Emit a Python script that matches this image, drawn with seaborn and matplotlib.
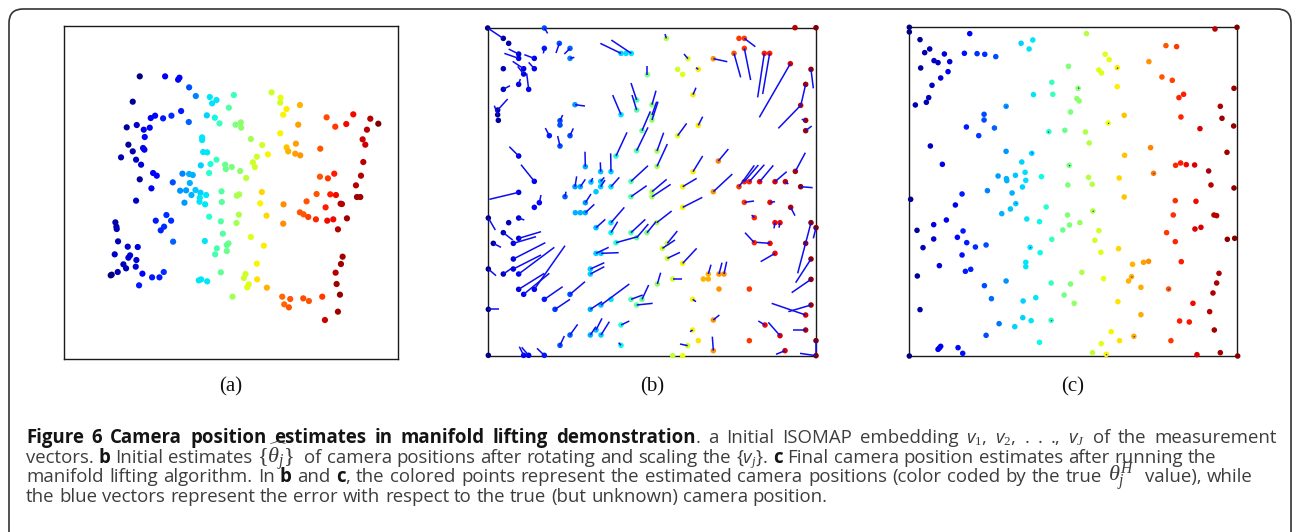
import numpy as np
import pandas as pd
import matplotlib
matplotlib.use("Agg")
import matplotlib.pyplot as plt
import seaborn as sns
from matplotlib.collections import LineCollection
from matplotlib.patches import FancyBboxPatch
from matplotlib.transforms import IdentityTransform

sns.set_style("white")
plt.rcParams['font.family'] = ['Open Sans', 'DejaVu Sans']
plt.rcParams['mathtext.fontset'] = 'custom'
plt.rcParams['mathtext.rm'] = 'Liberation Serif'
plt.rcParams['mathtext.it'] = 'Liberation Serif:italic'
plt.rcParams['mathtext.sf'] = 'Open Sans:italic'
plt.rcParams['mathtext.bf'] = 'Open Sans:bold'

JET = matplotlib.colormaps["jet"]

# ---------------- data: panel (a) ISOMAP embedding ----------------
a_x = [239,315,354,358,387,407,449,469,456,521,506,634,661,660,679,669,719,714,660,218,
       363,272,285,309,334,386,440,464,478,526,542,543,200,230,251,269,254,426,426,572,
       606,590,623,578,584,205,218,249,253,183,228,243,429,441,469,451,422,495,497,515,
       540,558,447,679,684,707,705,720,780,799,825,858,879,930,954,920,907,915,909,902,
       887,890,900,841,845,860,833,822,803,779,769,810,827,796,739,719,730,744,767,801,
       819,670,669,605,600,619,279,290,239,274,228,338,367,387,398,389,360,378,394,406,
       421,438,419,418,435,373,484,485,530,537,536,529,447,482,488,572,611,505,500,470,
       500,465,434,482,556,551,590,591,566,561,620,517,423,416,441,166,169,170,319,287,
       333,312,302,339,174,203,233,164,210,205,229,190,198,227,155,152,173,247,276,298,
       311,237,847,842,826,829,839,833,794,786,746,729,690,666,672,686]
a_y = [169,169,179,173,202,228,231,240,250,225,263,217,233,248,267,284,255,314,340,245,
       273,294,287,295,287,306,286,293,310,314,307,323,322,315,329,323,351,352,360,357,
       375,410,403,427,441,374,394,384,389,412,419,434,396,397,419,432,436,434,447,441,
       453,474,459,382,394,371,401,406,386,292,320,312,283,296,311,329,358,374,426,467,
       496,531,531,551,552,595,628,461,475,470,522,523,525,562,544,577,583,591,598,602,
       598,553,611,516,550,587,459,467,478,505,542,487,461,462,465,489,512,511,525,510,
       518,525,533,545,553,548,514,546,527,523,584,609,590,604,641,651,677,670,675,685,
       693,703,663,757,762,774,731,778,793,802,803,830,778,781,784,607,620,627,585,602,
       602,620,631,665,664,680,681,703,706,713,720,733,745,740,764,766,756,761,772,772,
       756,796,710,732,758,792,824,875,900,830,843,835,837,830,853,862]
a_hue = [0.0,0.1,0.12,0.12,0.2,0.25,0.35,0.35,0.35,0.42,0.45,0.6,0.63,0.6,0.66,0.65,0.72,0.74,0.65,0.02,
         0.15,0.12,0.12,0.15,0.17,0.22,0.33,0.37,0.42,0.5,0.52,0.52,0.03,0.07,0.1,0.12,0.12,0.35,0.35,0.55,
         0.6,0.6,0.65,0.6,0.6,0.02,0.04,0.1,0.1,0.04,0.06,0.08,0.35,0.35,0.42,0.38,0.33,0.48,0.48,0.5,
         0.52,0.58,0.4,0.7,0.72,0.74,0.74,0.75,0.82,0.83,0.85,0.9,0.9,0.95,1.0,0.95,0.93,0.93,0.95,0.95,
         0.95,0.97,0.97,0.95,0.95,0.97,0.95,0.88,0.85,0.82,0.82,0.88,0.9,0.88,0.82,0.82,0.82,0.84,0.87,0.9,
         0.9,0.76,0.76,0.68,0.65,0.68,0.12,0.12,0.03,0.1,0.06,0.2,0.25,0.3,0.3,0.3,0.27,0.28,0.3,0.32,
         0.33,0.35,0.35,0.35,0.35,0.27,0.45,0.46,0.55,0.56,0.56,0.55,0.4,0.45,0.45,0.62,0.66,0.48,0.47,0.44,
         0.48,0.43,0.35,0.47,0.6,0.6,0.65,0.67,0.62,0.62,0.72,0.55,0.35,0.35,0.35,0.04,0.04,0.05,0.17,0.15,
         0.17,0.17,0.16,0.22,0.05,0.07,0.08,0.06,0.08,0.08,0.08,0.05,0.05,0.08,0.0,0.0,0.04,0.12,0.15,0.15,
         0.17,0.15,0.97,0.97,0.95,0.97,0.98,0.97,0.93,0.85,0.82,0.83,0.82,0.8,0.8,0.82]

# ---------------- data: panel (b) initial estimates + error vectors ----------------
b_x = [23,70,86,193,238,270,270,193,116,116,163,131,131,163,70,116,146,70,53,53,
       55,285,240,240,208,270,240,116,163,423,438,454,502,423,470,470,516,516,516,486,
       470,408,316,362,393,453,285,301,333,362,362,393,116,178,163,255,316,286,301,316,
       348,453,516,516,25,86,116,70,116,100,40,348,393,393,408,453,470,501,100,100,
       116,70,25,348,363,331,331,116,131,163,193,270,225,331,363,393,453,470,486,25,
       270,331,348,363,240,423,423,131,146,193,25,608,700,793,870,932,823,885,900,993,
       1008,977,993,993,993,977,977,1008,1008,915,823,870,885,530,562,547,562,608,532,578,
       685,670,685,717,732,717,808,638,700,638,655,623,700,808,855,900,578,608,945,1008,
       559,624,593,608,655,700,777,793,762,793,853,869,931,993,977,962,977,977,639,593,
       655,531,531,639,715,608,777,793,808,839,885,916,946,962]
b_y = [24,55,70,24,70,85,115,85,102,115,115,146,162,146,146,193,208,208,270,284,
       301,254,302,315,347,347,378,408,484,100,100,100,164,284,270,240,254,285,300,332,
       392,408,440,455,455,484,500,500,486,484,500,500,517,548,562,530,548,578,578,578,
       515,530,515,530,594,608,594,638,655,670,670,623,608,638,668,638,653,638,717,747,
       762,762,747,700,700,747,762,808,823,808,838,823,868,868,855,838,838,855,838,868,
       945,945,930,945,976,915,976,1006,1006,1006,1006,562,515,547,547,562,593,608,608,608,
       623,670,717,778,855,885,930,962,1007,992,668,670,700,608,670,685,715,730,792,777,
       762,777,777,762,762,807,807,838,900,930,962,977,992,962,915,947,1007,1007,23,23,
       55,116,148,163,148,116,55,55,100,85,100,100,131,148,193,256,301,332,224,347,
       316,393,439,455,423,500,500,485,485,485,485,485,454,500]
b_hue = [0.0,0.03,0.04,0.2,0.2,0.22,0.25,0.15,0.08,0.08,0.1,0.08,0.08,0.1,0.05,0.08,0.1,0.05,0.03,0.03,
         0.03,0.28,0.2,0.2,0.15,0.2,0.2,0.08,0.1,0.33,0.34,0.35,0.5,0.35,0.45,0.45,0.52,0.52,0.52,0.47,
         0.45,0.4,0.3,0.32,0.33,0.45,0.28,0.3,0.32,0.33,0.33,0.35,0.08,0.13,0.12,0.22,0.28,0.3,0.3,0.3,
         0.32,0.45,0.55,0.55,0.0,0.05,0.08,0.05,0.08,0.08,0.03,0.32,0.35,0.37,0.4,0.45,0.47,0.5,0.08,0.08,
         0.1,0.05,0.0,0.33,0.33,0.33,0.33,0.08,0.1,0.1,0.15,0.2,0.18,0.3,0.32,0.35,0.45,0.47,0.47,0.0,
         0.22,0.3,0.32,0.33,0.2,0.4,0.37,0.1,0.1,0.15,0.0,0.65,0.75,0.85,0.9,0.95,0.87,0.9,0.9,0.98,
         1.0,0.98,0.98,0.98,0.97,0.92,0.95,1.0,1.0,0.92,0.87,0.9,0.9,0.57,0.6,0.6,0.6,0.65,0.53,0.6,
         0.72,0.72,0.72,0.75,0.75,0.75,0.85,0.65,0.75,0.65,0.67,0.6,0.75,0.85,0.9,0.92,0.58,0.63,0.95,1.0,
         0.57,0.62,0.6,0.62,0.66,0.75,0.85,0.85,0.82,0.85,0.88,0.88,0.92,0.98,0.97,0.94,0.97,0.97,0.66,0.62,
         0.66,0.55,0.55,0.66,0.77,0.65,0.85,0.87,0.87,0.9,0.92,0.93,0.96,0.98]
b_end_x = [68,70,86,203,228,253,283,190,86,73,133,98,113,146,70,121,140,90,83,43,
           55,315,248,240,196,280,233,88,123,361,438,394,502,398,456,453,528,530,534,511,
           504,441,315,361,392,504,290,316,338,373,375,418,28,183,163,258,333,286,301,343,
           348,500,560,572,46,86,133,98,183,168,63,376,433,413,473,496,505,528,196,183,
           223,95,48,386,416,373,373,193,208,255,248,315,270,366,448,393,488,518,506,56,
           293,348,366,388,253,448,416,118,125,171,25,667,757,822,885,945,815,882,897,953,
           1000,977,947,935,925,875,940,1008,960,888,795,830,842,575,592,585,600,650,542,607,
           693,670,685,726,740,717,808,648,718,630,655,600,697,808,835,865,578,608,945,1008,
           555,612,593,608,648,742,777,826,782,812,833,848,838,1000,962,895,965,995,648,620,
           668,551,562,668,745,650,823,835,853,880,920,925,976,998]
b_end_y = [54,55,70,40,99,102,112,100,87,100,104,124,139,127,146,177,160,197,237,257,
           301,258,285,315,324,325,348,380,434,70,100,60,139,225,225,189,212,245,245,274,
           322,337,395,427,400,437,469,478,474,472,480,472,538,525,562,515,522,578,578,553,
           515,497,478,493,630,608,600,660,635,650,682,598,562,605,650,598,612,605,668,705,
           682,745,767,682,698,728,740,760,760,677,800,785,838,845,792,838,825,850,795,868,
           913,920,895,905,948,903,968,980,982,985,1006,532,462,543,545,587,585,625,623,760,
           655,670,788,818,875,850,930,1000,1000,1003,638,667,725,573,633,660,697,685,758,777,
           734,777,777,728,725,807,807,845,885,935,962,972,950,962,903,907,1007,1007,23,23,
           42,102,148,163,143,125,55,80,172,180,232,222,292,205,258,325,298,318,203,310,
           290,338,372,408,387,475,436,435,434,436,455,492,398,503]

# ---------------- data: panel (c) final estimates ----------------
c_x = [28,28,209,363,398,387,559,944,1010,797,829,60,89,74,133,193,231,254,287,102,
       114,149,62,144,122,96,86,79,46,615,627,651,596,604,505,746,785,816,455,534,
       651,400,458,530,537,850,836,1001,960,318,511,672,965,842,252,252,624,1000,199,283,
       899,446,494,556,236,567,91,751,318,395,980,673,127,365,507,826,841,858,883,925,
       294,319,320,346,375,424,377,367,565,576,503,657,760,932,1001,262,336,186,672,32,
       166,347,331,438,825,887,305,502,578,819,941,949,139,380,418,508,539,101,884,902,
       51,189,172,488,596,101,200,226,258,455,584,799,825,981,1003,69,390,655,602,186,
       420,377,377,697,730,745,843,118,196,212,545,52,694,685,610,956,949,318,453,511,
       253,722,805,938,274,407,369,492,522,653,878,60,928,722,297,368,393,453,344,838,
       867,942,633,258,658,701,812,418,603,122,118,114,174,188,577,618,890,960,28,1012]
c_y = [22,36,41,70,60,87,41,27,22,77,80,59,87,98,102,100,101,103,110,122,
       128,125,144,155,174,196,233,247,255,103,119,143,150,159,139,125,171,181,187,205,
       200,224,223,236,243,223,233,205,259,259,276,286,295,291,283,300,309,318,321,324,
       326,335,331,336,347,369,378,383,394,400,397,406,433,426,436,436,429,434,435,453,
       468,476,482,466,457,470,481,501,472,493,495,474,460,495,504,512,519,522,531,538,
       555,551,567,561,542,544,581,585,573,585,585,587,600,597,605,615,608,614,627,622,
       631,633,652,630,632,657,668,681,675,658,661,638,665,658,655,683,682,686,697,705,
       698,727,740,733,727,724,725,737,754,748,757,768,770,783,776,760,789,783,789,792,
       797,802,807,819,836,833,843,825,850,845,850,869,875,884,911,893,902,901,920,903,
       906,930,935,946,962,949,962,967,971,979,984,988,983,1000,998,1003,1004,998,1008,1008]
c_hue = [0.0,0.0,0.12,0.33,0.35,0.35,0.57,0.95,1.0,0.82,0.85,0.02,0.05,0.04,0.08,0.14,0.17,0.17,0.2,0.06,
         0.06,0.08,0.03,0.1,0.08,0.06,0.05,0.05,0.04,0.62,0.63,0.66,0.62,0.62,0.5,0.75,0.82,0.84,0.42,0.52,
         0.66,0.35,0.42,0.52,0.52,0.88,0.87,0.98,0.96,0.27,0.5,0.7,0.97,0.87,0.2,0.2,0.64,0.98,0.15,0.22,
         0.92,0.41,0.48,0.56,0.18,0.57,0.06,0.77,0.27,0.33,0.97,0.7,0.1,0.33,0.5,0.87,0.88,0.9,0.92,0.95,
         0.28,0.3,0.3,0.32,0.34,0.37,0.34,0.33,0.57,0.57,0.5,0.68,0.78,0.95,0.99,0.25,0.3,0.15,0.7,0.02,
         0.1,0.33,0.32,0.4,0.86,0.9,0.3,0.5,0.57,0.86,0.95,0.95,0.1,0.35,0.37,0.5,0.53,0.08,0.92,0.92,
         0.03,0.15,0.13,0.48,0.6,0.07,0.15,0.17,0.2,0.42,0.6,0.85,0.87,0.99,1.0,0.05,0.35,0.68,0.62,0.14,
         0.37,0.35,0.35,0.72,0.74,0.76,0.88,0.08,0.15,0.16,0.56,0.03,0.72,0.72,0.63,0.96,0.96,0.27,0.42,0.5,
         0.2,0.73,0.82,0.96,0.23,0.35,0.33,0.49,0.53,0.67,0.9,0.03,0.95,0.73,0.24,0.33,0.35,0.42,0.33,0.88,
         0.89,0.97,0.65,0.2,0.67,0.73,0.85,0.37,0.62,0.1,0.1,0.1,0.13,0.14,0.58,0.65,0.92,0.97,0.0,1.0]
# residual (tiny) error vectors visible in panel (c)
c_vec_x0 = [651,534,624,446,318,395,760,925,347,578,390,805,701,618,694,453,507]
c_vec_y0 = [143,205,309,335,259,400,460,453,551,573,682,807,949,1003,770,901,436]
c_vec_x1 = [653,537,626,444,320,397,762,928,349,580,392,807,703,620,696,455,509]
c_vec_y1 = [146,204,311,337,261,398,462,455,549,575,684,809,951,1005,772,903,438]

panel_labels = ["(a)", "(b)", "(c)"]

# ---------------- figure ----------------
W, H = 1293, 532
fig = plt.figure(figsize=(W / 100, H / 100), dpi=100)
fig.patch.set_facecolor("white")


def add_panel(left, top, right, bottom):
    return fig.add_axes([left / W, 1 - bottom / H, (right - left) / W, (bottom - top) / H])


axA = add_panel(64, 25.7, 398, 359)
axB = add_panel(488, 27.7, 816, 356)
axC = add_panel(909, 27.3, 1237, 356)

df_a = pd.DataFrame({"x": a_x, "y": a_y, "hue": a_hue})
df_b = pd.DataFrame({"x": b_x, "y": b_y, "hue": b_hue})
df_c = pd.DataFrame({"x": c_x, "y": c_y, "hue": c_hue})


def scatter(ax, df, s):
    sns.scatterplot(data=df, x="x", y="y", hue="hue", palette=JET, hue_norm=(0, 1),
                    s=s, linewidth=0, legend=False, ax=ax, zorder=3)
    ax.collections[-1].set_clip_on(False)


scatter(axA, df_a, 20)
scatter(axB, df_b, 16)
scatter(axC, df_c, 16)

segs_b = np.stack([np.column_stack([b_x, b_y]), np.column_stack([b_end_x, b_end_y])], axis=1)
lc_b = LineCollection(segs_b, colors="#0d0df2", linewidths=1.1, zorder=4, clip_on=False)
axB.add_collection(lc_b)

segs_c = np.stack([np.column_stack([c_vec_x0, c_vec_y0]), np.column_stack([c_vec_x1, c_vec_y1])], axis=1)
lc_c = LineCollection(segs_c, colors="#0d0df2", linewidths=1.0, zorder=4)
axC.add_collection(lc_c)

limits = [(axA, (12, 1013, 17, 1017)), (axB, (24, 1008, 23, 1008)), (axC, (27, 1010, 22, 1008))]
for ax, (x0, x1, y0, y1) in limits:
    ax.set_xlim(x0, x1)
    ax.set_ylim(y1, y0)
    ax.set_xticks([])
    ax.set_yticks([])
    ax.set_xlabel("")
    ax.set_ylabel("")
    ax.set_facecolor("white")
    for sp in ax.spines.values():
        sp.set_visible(True)
        sp.set_color("#1a1a1a")
        sp.set_linewidth(1.0)

for lbl, cx in zip(panel_labels, [231, 652, 1073]):
    fig.text(cx / W, 1 - 387 / H, lbl, ha="center", va="center", fontsize=15,
             family=["Liberation Serif", "DejaVu Serif"], color="#111111")

# ---------------- caption ----------------
renderer = fig.canvas.get_renderer()

# segments: (text, bold, space-before, size factor)
caption_lines = [
    [("Figure 6 Camera position estimates in manifold lifting demonstration", True, 0, 1.0),
     (". a Initial ISOMAP embedding $\\mathsf{v}_1$, $\\mathsf{v}_2$, . . ., $\\mathsf{v}_J$ of the measurement", False, 0, 1.0)],
    [("vectors.", False, 0, 1.0), ("b", True, 1, 1.0), ("Initial estimates", False, 1, 1.0),
     ("$\\{\\widehat{\\theta_j}\\}$", False, 1, 1.2),
     ("of camera positions after rotating and scaling the {$\\mathsf{v}_j$}.", False, 2, 1.0),
     ("c", True, 1, 1.0), ("Final camera position estimates after running the", False, 1, 1.0)],
    [("manifold lifting algorithm. In", False, 0, 1.0), ("b", True, 1, 1.0), ("and", False, 1, 1.0),
     ("c", True, 1, 1.0),
     (", the colored points represent the estimated camera positions (color coded by the true", False, 0, 1.0),
     ("$\\theta_j^H$", False, 1, 1.2), ("value), while", False, 2, 1.0)],
    [("the blue vectors represent the error with respect to the true (but unknown) camera position.", False, 0, 1.0)],
]
baselines = [443, 463, 482, 502]
line_ends = [1277, 1213, 1253, None]
x_start = 26.0


def measure(s, size, bold=False):
    t = fig.text(0, 0, s, fontsize=size, fontweight="bold" if bold else "normal")
    w = t.get_window_extent(renderer).width
    t.remove()
    return w


def space_w(size):
    return measure("a a", size) - measure("aa", size)


def tokens_of(segs):
    out = []
    for text, bold, gap, k in segs:
        words = text.split(" ")
        first = True
        for w in words:
            if w == "":
                continue
            out.append((w, bold, gap if first else 1, k))
            first = False
    return out


def natural_width(tokens, size):
    sp = space_w(size)
    return sum(g * sp + measure(w, size * k, b) for w, b, g, k in tokens)


line_tokens = [tokens_of(s) for s in caption_lines]

# font size: line 2 (unstretched) spans to its measured end
fs = 12.0
for _ in range(2):
    fs = fs * (line_ends[1] - x_start) / natural_width(line_tokens[1], fs)
space = space_w(fs)

for toks, yb, end in zip(line_tokens, baselines, line_ends):
    widths = [measure(w, fs * k, b) for w, b, g, k in toks]
    gaps = sum(g for _, _, g, _ in toks[1:])
    nat = sum(widths) + space * sum(g for _, _, g, _ in toks)
    extra = max(0.0, (end - x_start - nat) / gaps) if (end and gaps) else 0.0
    x = x_start
    for (w, b, g, k), wd in zip(toks, widths):
        x += g * (space + extra)
        fig.text(x / W, 1 - yb / H, w, fontsize=fs * k,
                 fontweight="bold" if b else "normal",
                 color="#141414" if b else "#3d3d3d",
                 ha="left", va="baseline")
        x += wd

# outer rounded frame (bottom edge lies beyond the canvas)
border = FancyBboxPatch((9, -40), 1282, 532 - 9 + 40, boxstyle="round,pad=0,rounding_size=14",
                        transform=IdentityTransform(), fill=False, edgecolor="#333333", linewidth=1.2)
fig.add_artist(border)

fig.savefig("out.png", dpi=100, facecolor="white")
